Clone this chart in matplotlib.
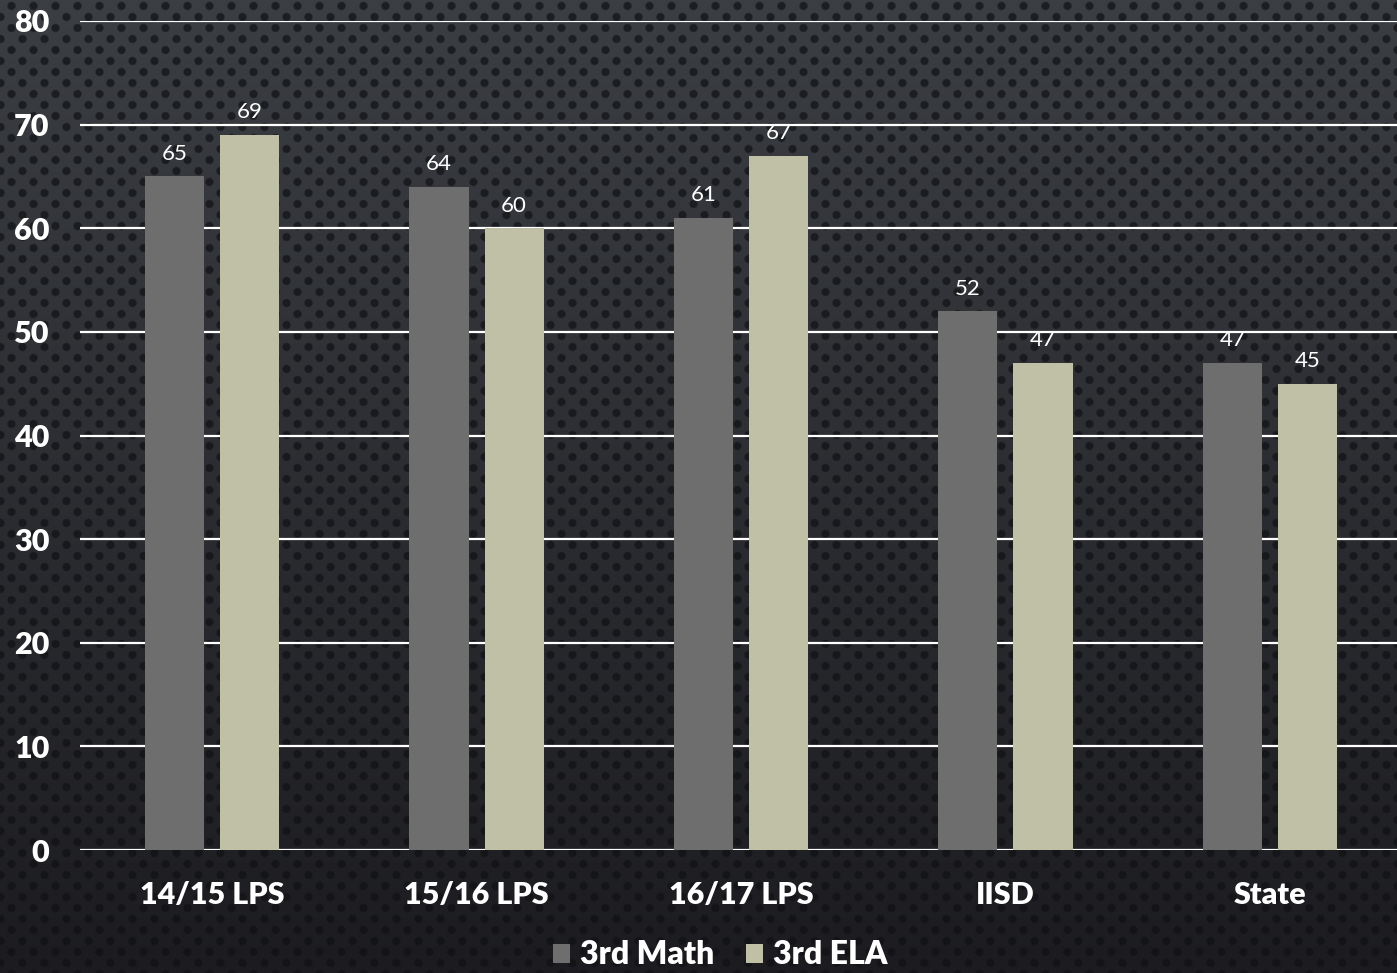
import numpy as np
import matplotlib
matplotlib.use("Agg")
import matplotlib.pyplot as plt

categories = ["14/15 LPS", "15/16 LPS", "16/17 LPS", "IISD", "State"]
math_vals = [65, 64, 61, 52, 47]
ela_vals = [69, 60, 67, 47, 45]
series_names = ["3rd Math", "3rd ELA"]
yticks = [0, 10, 20, 30, 40, 50, 60, 70, 80]

W, H = 1397, 973
fig = plt.figure(figsize=(W / 100, H / 100), dpi=100)

# decorative background: vertical gradient with dotted texture
yy, xx = np.mgrid[0:H, 0:W].astype(float)
t = yy / H
top = np.array([0x3b, 0x3e, 0x43]) / 255
bot = np.array([0x1c, 0x1c, 0x20]) / 255
base = top[None, None, :] * (1 - t[..., None]) + bot[None, None, :] * t[..., None]
sp = 22.0
row = np.floor(yy / (sp / 2))
xs = xx + (row % 2) * (sp / 2)
dx = (xs % sp) - sp / 2
dy = (yy % (sp / 2)) - sp / 4
d = np.sqrt(dx ** 2 + dy ** 2)
mask = np.clip((4.8 - d) / 1.5, 0, 1)
dark = np.array([0x10, 0x11, 0x14]) / 255
img = base * (1 - 0.7 * mask[..., None]) + dark[None, None, :] * 0.7 * mask[..., None]
bg = fig.add_axes([0, 0, 1, 1], zorder=-10)
bg.imshow(img, aspect="auto", extent=[0, 1, 0, 1], interpolation="nearest")
bg.axis("off")

ax = fig.add_axes([80 / W, 1 - 850 / H, 1322 / W, (850 - 21) / H])
ax.patch.set_alpha(0)

x = np.arange(len(categories))
bw = 0.224
off = 0.142
c_math = "#6e6e6e"
c_ela = "#c0c0a6"
b1 = ax.bar(x - off, math_vals, bw, color=c_math, zorder=3, label=series_names[0])
b2 = ax.bar(x + off, ela_vals, bw, color=c_ela, zorder=3, label=series_names[1])

for bars, vals in ((b1, math_vals), (b2, ela_vals)):
    for r, v in zip(bars, vals):
        ax.annotate(str(v), (r.get_x() + r.get_width() / 2, v), xytext=(0, 9),
                    textcoords="offset points", ha="center", va="bottom",
                    color="white", fontsize=16, family="Lato", fontweight="normal", zorder=5)

ax.set_xlim(-0.5, len(categories) - 0.5)
ax.set_ylim(0, 80)
ax.yaxis.grid(True, color="white", linewidth=1.6, zorder=1)
ax.set_axisbelow(True)
for s in ax.spines.values():
    s.set_visible(False)
ax.tick_params(axis="both", length=0, colors="white")
ax.tick_params(axis="y", pad=22)
ax.tick_params(axis="x", pad=22)
fd = {"family": "Lato", "fontweight": "heavy", "fontsize": 22, "color": "white"}
ax.set_yticks(yticks)
ax.set_yticklabels([str(v) for v in yticks], **fd)
ax.set_xticks(x)
ax.set_xticklabels(categories, **fd)

leg = fig.legend(handles=[b1, b2], labels=series_names, loc="center",
                 bbox_to_anchor=(720 / W, 1 - 955 / H), ncol=2, frameon=False,
                 prop={"family": "Lato", "weight": "heavy", "size": 23},
                 handlelength=0.55, handleheight=0.55, handletextpad=0.3, columnspacing=1.0)
for txt in leg.get_texts():
    txt.set_color("white")

fig.savefig("out.png", dpi=100)
